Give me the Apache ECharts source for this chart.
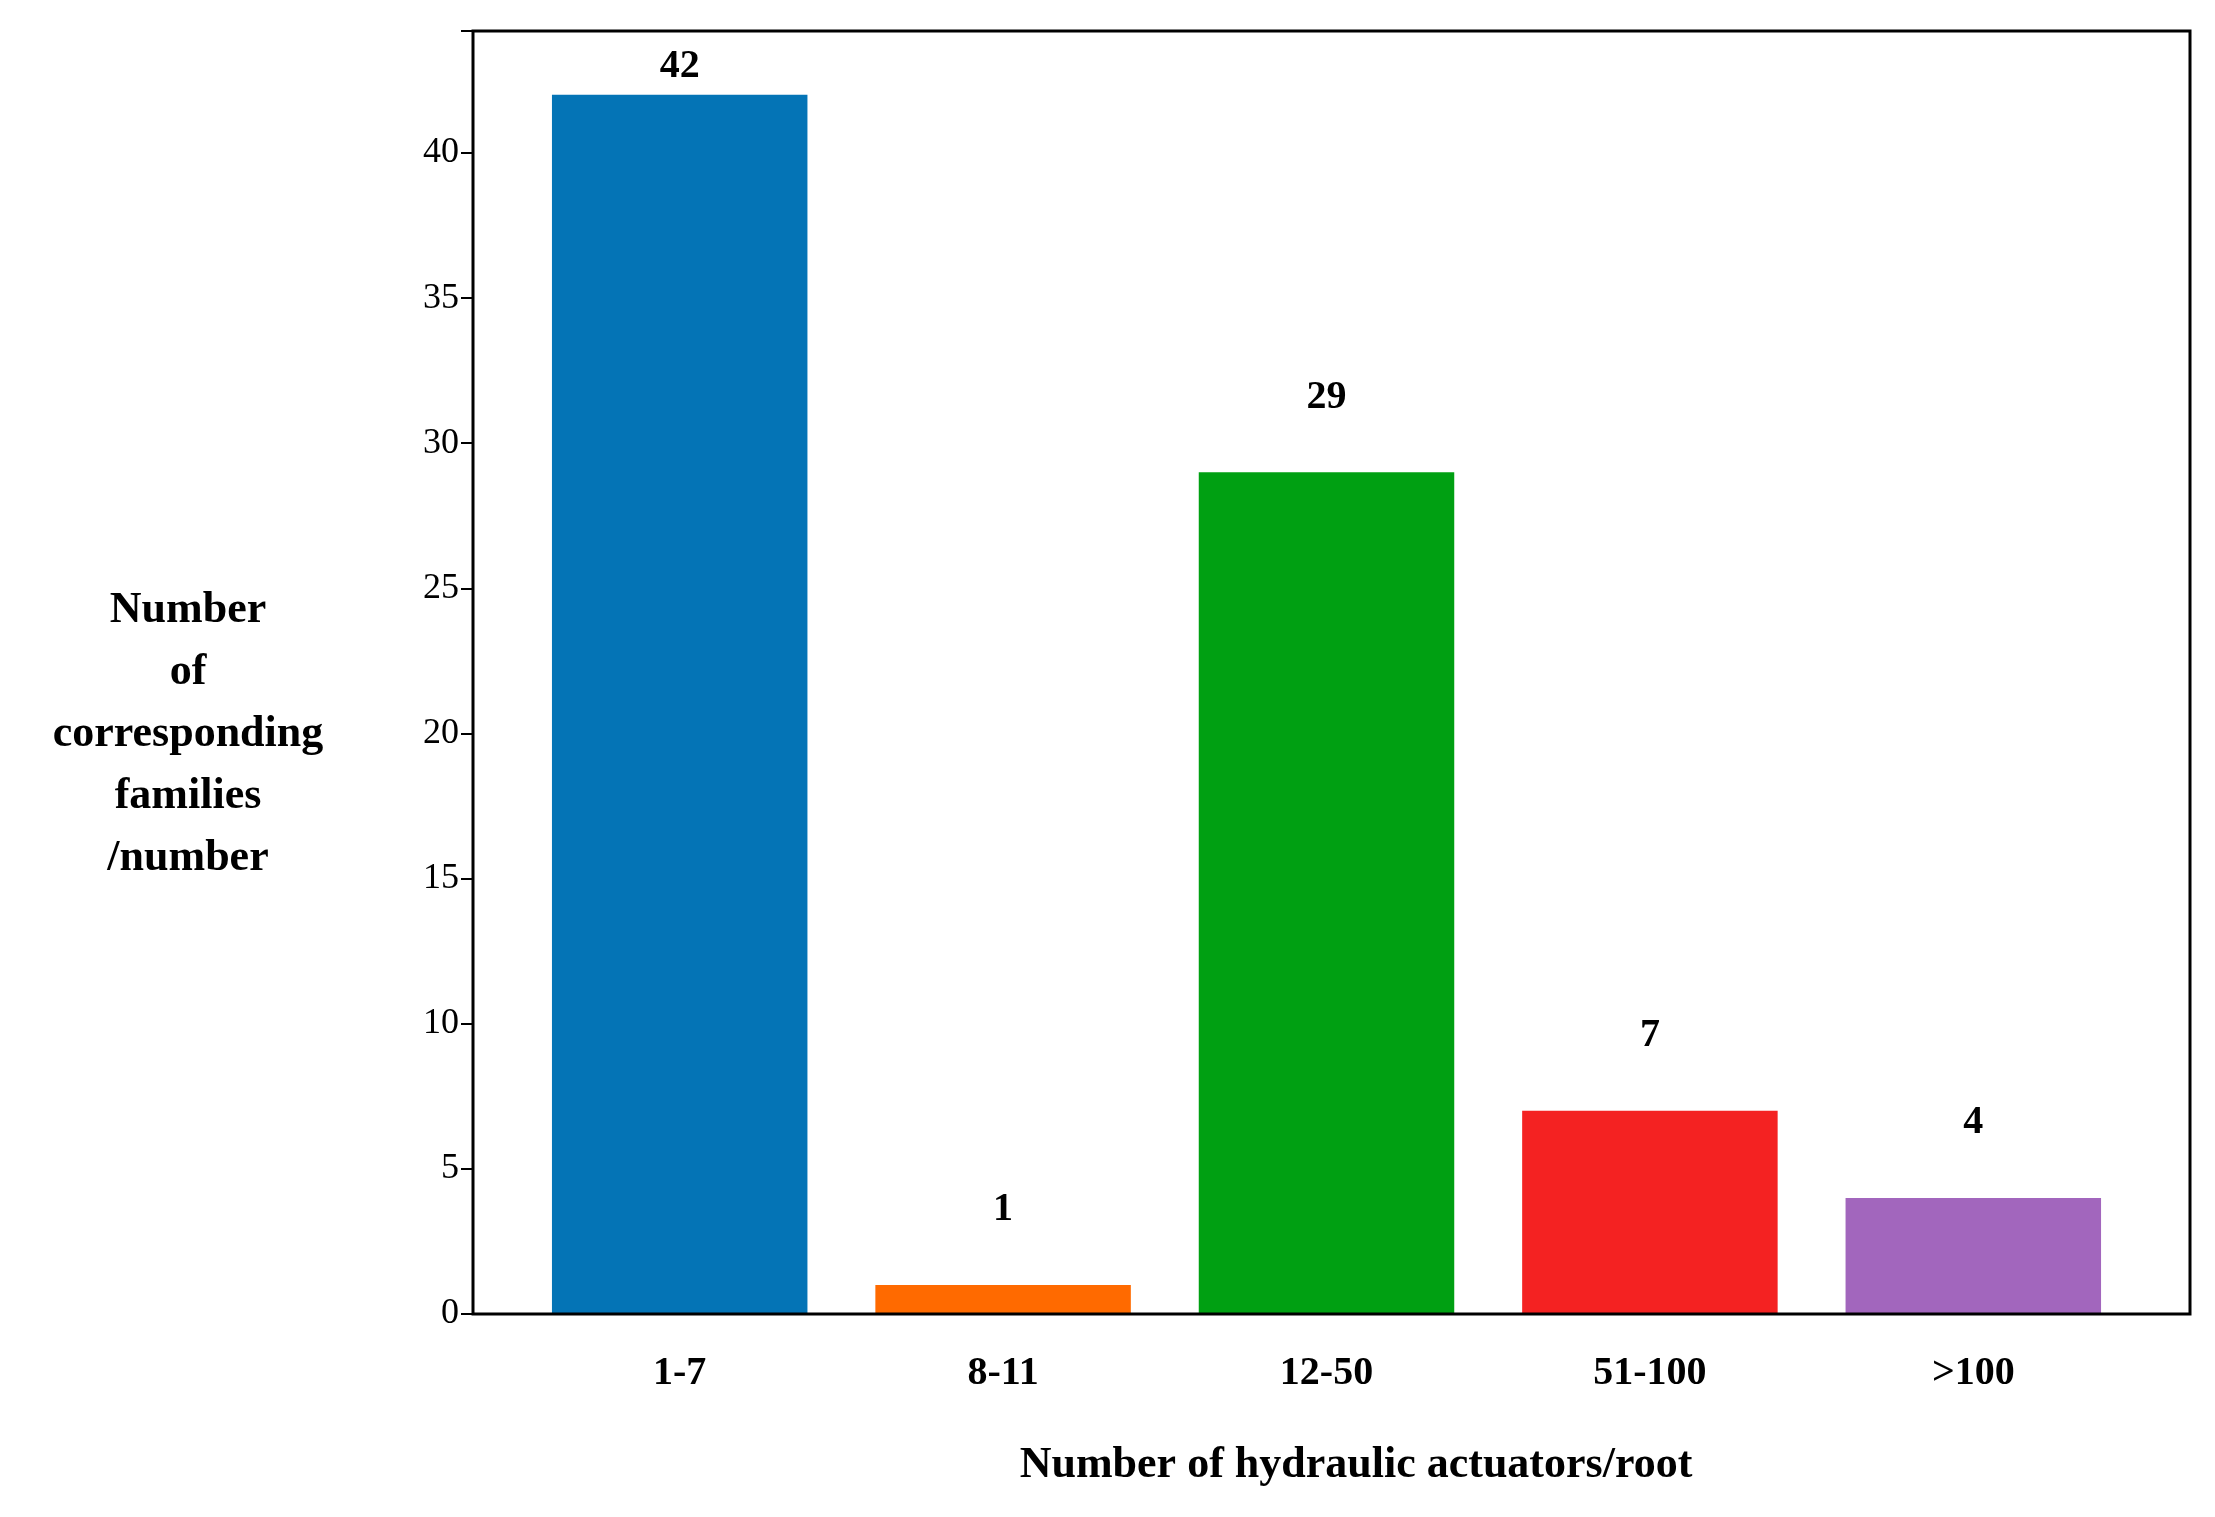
<!DOCTYPE html>
<html><head><meta charset="utf-8">
<script src="https://cdn.jsdelivr.net/npm/echarts@6/dist/echarts.min.js"></script>
<style>html,body{margin:0;padding:0;background:#fff}#c{width:2215px;height:1517px}</style>
</head><body><div id="c"></div>
<script>
const categories = ['1-7','8-11','12-50','51-100','>100'];
const values = [42,1,29,7,4];
const colors = ['#0474b6','#ff6a00','#00a012','#f42222','#a266bd'];
const yTicks = [0,5,10,15,20,25,30,35,40];

const F = 'Liberation Serif';
const chart = echarts.init(document.getElementById('c'));
chart.setOption({
  backgroundColor:'#fff',
  animation:false,
  grid:{left:518,right:80,top:31,bottom:203},
  xAxis:{type:'category',data:categories,
    axisLine:{show:false},axisTick:{show:false},
    axisLabel:{margin:40,fontFamily:F,fontWeight:'bold',fontSize:40,color:'#000'}},
  yAxis:{type:'value',min:0,max:44.2,interval:5,offset:45,
    splitLine:{show:false},
    axisLine:{show:true,lineStyle:{color:'#000',width:2}},
    axisTick:{show:true,length:12,lineStyle:{color:'#000',width:2}},
    axisLabel:{margin:14,fontFamily:F,fontSize:36,color:'#000',
      formatter:v=>yTicks.includes(v)?String(v):''}},
  series:[{type:'bar',barWidth:'79%',
    data:values.map((v,i)=>({value:v,itemStyle:{color:colors[i]},
      label:{distance:i===0?8:55}})),
    label:{show:true,position:'top',fontFamily:F,fontWeight:'bold',fontSize:40,color:'#000'}}],
  graphic:[
    {type:'rect',shape:{x:473,y:31,width:1717,height:1283},style:{fill:'none',stroke:'#000',lineWidth:3},z:10},
    {type:'text',left:'center',x:0,style:{text:''}},
    {type:'text',x:188,y:735,style:{text:'Number\nof\ncorresponding\nfamilies\n/number',
      font:'bold 44px "Liberation Serif"',fill:'#000',align:'center',verticalAlign:'middle',lineHeight:62}},
    {type:'text',x:1356,y:1466,style:{text:'Number of hydraulic actuators/root',
      font:'bold 44px "Liberation Serif"',fill:'#000',align:'center',verticalAlign:'middle'}}
  ]
});
</script></body></html>
